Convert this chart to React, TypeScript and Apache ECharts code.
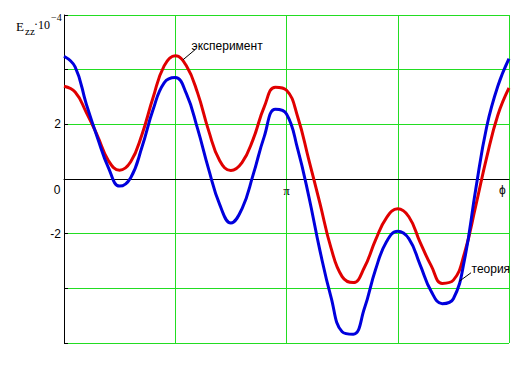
import React, { useEffect, useRef } from "react";
import * as echarts from "echarts";

// angle phi (radians), read every pi/20
const phi = [0, 0.157, 0.314, 0.471, 0.628, 0.785, 0.942, 1.1, 1.257, 1.414, 1.571, 1.728, 1.885, 2.042, 2.199, 2.356, 2.513, 2.67, 2.827, 2.985, 3.142, 3.299, 3.456, 3.613, 3.77, 3.927, 4.084, 4.241, 4.398, 4.555, 4.712, 4.869, 5.027, 5.184, 5.341, 5.498, 5.655, 5.812, 5.969, 6.126, 6.283];
// strain, units of 1e-4
const theoryVal = [4.49, 4.1, 2.75, 1.52, 0.41, -0.26, 0.05, 1.16, 2.53, 3.52, 3.71, 3.12, 1.85, 0.36, -0.94, -1.61, -1.09, 0.15, 1.55, 2.55, 2.38, 1.1, -0.63, -2.61, -4.32, -5.59, -5.68, -4.74, -3.32, -2.29, -1.91, -2.18, -3.13, -4.11, -4.56, -4.38, -2.95, -0.4, 1.92, 3.4, 4.4];
const expVal = [3.39, 3.18, 2.44, 1.59, 0.67, 0.32, 0.63, 1.62, 2.97, 4.14, 4.51, 4.14, 3.16, 1.77, 0.67, 0.31, 0.6, 1.45, 2.64, 3.36, 3.25, 2.28, 0.71, -0.88, -2.52, -3.57, -3.79, -3.24, -2.24, -1.41, -1.09, -1.38, -2.31, -3.17, -3.82, -3.7, -2.71, -1.0, 0.8, 2.34, 3.33];

const yTickLabels = ["-2", "2"];
const xTickLabels = ["0", "π"];
const expLabel = "эксперимент";
const theoryLabel = "теория";

const GREEN = "#22dd22";
const FONT = "Liberation Sans, Arial, sans-serif";
const SERIF = "Liberation Serif, Times New Roman, serif";

export default function App() {
  const ref = useRef<HTMLDivElement>(null);
  useEffect(() => {
    if (!ref.current) return;
    const chart = echarts.init(ref.current, undefined, { renderer: "svg" });
    const theory = phi.map((p, i) => [p, theoryVal[i]]);
    const exp = phi.map((p, i) => [p, expVal[i]]);
    const hiddenPoint = { color: "rgba(0,0,0,0)" };
    const txt = (x: number, y: number, text: string, size: number) => ({
      type: "text",
      x,
      y,
      style: { text, fontSize: size, fontFamily: SERIF, fill: "#000", textVerticalAlign: "top" },
    });
    chart.setOption({
      animation: false,
      backgroundColor: "#ffffff",
      grid: { left: 64, top: 15, right: 23, bottom: 25, containLabel: false },
      xAxis: {
        type: "value",
        min: 0,
        max: 2 * Math.PI,
        interval: Math.PI / 2,
        name: "ϕ",
        nameLocation: "end",
        nameGap: -10,
        nameTextStyle: { color: "#000", fontSize: 12, fontFamily: FONT, verticalAlign: "top", padding: [5, 0, 0, 0] },
        axisLine: { onZero: true, lineStyle: { color: "#000", width: 1 } },
        axisTick: { show: false },
        splitLine: { show: true, lineStyle: { color: GREEN, width: 1 } },
        axisLabel: { show: false },
      },
      yAxis: {
        type: "value",
        min: -6,
        max: 6,
        interval: 2,
        axisLine: { show: true, onZero: false, lineStyle: { color: "#000", width: 1 } },
        axisTick: { show: true, inside: true, length: 4, lineStyle: { color: "#000" } },
        splitLine: { show: true, lineStyle: { color: GREEN, width: 1 } },
        axisLabel: {
          margin: 3,
          color: "#000",
          fontSize: 12,
          fontFamily: FONT,
          formatter: (v: number) => {
            const s = String(Math.round(v));
            return yTickLabels.indexOf(s) >= 0 ? s : "";
          },
        },
      },
      graphic: [
        {
          type: "group",
          children: [
            txt(16, 20, "E", 13),
            txt(25, 25, "zz", 11),
            txt(34, 18, "·", 12),
            txt(38, 19, "10", 12),
            txt(51, 12, "−4", 10),
          ],
        },
      ],
      series: [
        {
          type: "line",
          name: expLabel,
          data: exp,
          smooth: 0.45,
          showSymbol: false,
          symbol: "none",
          lineStyle: { color: "#e00000", width: 3 },
          z: 3,
          markLine: {
            silent: true,
            symbol: "none",
            label: { show: false },
            lineStyle: { color: "#000", width: 1, type: "solid" },
            data: [[{ coord: [1.68, 4.36] }, { coord: [1.85, 4.73] }]],
          },
          markPoint: {
            symbol: "circle",
            symbolSize: 1,
            itemStyle: hiddenPoint,
            label: { show: true, position: "right", distance: 0, color: "#000", fontSize: 12, fontFamily: FONT, formatter: expLabel },
            data: [{ coord: [1.794, 4.87] }],
          },
        },
        {
          type: "line",
          name: theoryLabel,
          data: theory,
          smooth: 0.45,
          showSymbol: false,
          symbol: "none",
          lineStyle: { color: "#0000dd", width: 3 },
          z: 4,
          markLine: {
            silent: true,
            symbol: "none",
            label: { show: false },
            lineStyle: { color: "#000", width: 1, type: "solid" },
            data: [[{ coord: [5.577, -3.75] }, { coord: [5.747, -3.43] }]],
          },
          markPoint: {
            symbol: "circle",
            symbolSize: 1,
            itemStyle: hiddenPoint,
            label: { show: true, position: "right", distance: 0, color: "#000", fontSize: 12, fontFamily: FONT, formatter: theoryLabel },
            data: [{ coord: [5.747, -3.28] }],
          },
        },
        {
          type: "scatter",
          name: "ticks",
          data: [],
          silent: true,
          markPoint: {
            symbol: "circle",
            symbolSize: 1,
            itemStyle: hiddenPoint,
            label: { show: true, position: "bottom", distance: 4, color: "#000", fontSize: 12, fontFamily: FONT },
            data: [
              { coord: [0, 0], label: { formatter: xTickLabels[0], offset: [-7, 0] } },
              { coord: [Math.PI, 0], label: { formatter: xTickLabels[1], fontFamily: SERIF, fontSize: 13 } },
            ],
          },
        },
      ],
    });
    return () => chart.dispose();
  }, []);
  return <div ref={ref} style={{ width: 532, height: 368, position: "absolute", left: 0, top: 0 }} />;
}
